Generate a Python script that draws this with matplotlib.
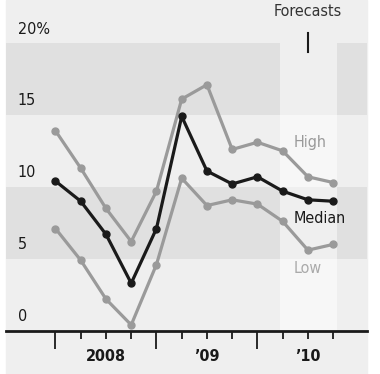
import matplotlib

matplotlib.use("Agg")
import matplotlib.pyplot as plt
from matplotlib.patches import Rectangle

plt.rcParams.update({"font.family": "DejaVu Sans", "font.stretch": "condensed"})

# quarterly forecasts, Q1 2008 .. Q4 2010
quarters = list(range(12))
high = [13.9, 11.3, 8.5, 6.2, 9.7, 16.1, 17.1, 12.6, 13.1, 12.5, 10.7, 10.3]
median = [10.4, 9.0, 6.7, 3.3, 7.1, 14.9, 11.1, 10.2, 10.7, 9.7, 9.1, 9.0]
low = [7.1, 4.9, 2.2, 0.4, 4.6, 10.6, 8.7, 9.1, 8.8, 7.6, 5.6, 6.0]

ytick_vals = [0, 5, 10, 15, 20]
ytick_labels = ["0", "5", "10", "15", "20%"]
year_pos = [2, 6, 10]
year_labels = ["2008", "\u201909", "\u201910"]
forecast_span = (8.9, 11.15)

bg_light = "#efefef"
bg_dark = "#e0e0e0"
grey = "#9a9a9a"
ink = "#1a1a1a"

fig = plt.figure(figsize=(3.8, 3.74), dpi=100, facecolor="white")
fig.patches.append(Rectangle((6 / 380, 0), 361 / 380, 1, transform=fig.transFigure,
                             color=bg_light, zorder=-10))
ax = fig.add_axes([6 / 380, 43.3 / 374, 361 / 380, 287.7 / 374])
ax.set_facecolor("none")
ax.set_xlim(-1.96, 12.34)
ax.set_ylim(0, 20)

ax.axhspan(15, 20, color=bg_dark, lw=0, zorder=0)
ax.axhspan(5, 10, color=bg_dark, lw=0, zorder=0)
ax.axvspan(*forecast_span, color="white", alpha=0.5, lw=0, zorder=1)

ax.plot(quarters, high, color=grey, lw=2.3, marker="o", ms=5, zorder=3)
ax.plot(quarters, low, color=grey, lw=2.3, marker="o", ms=5, zorder=3)
ax.plot(quarters, median, color=ink, lw=2.3, marker="o", ms=5, zorder=4)

for s in ["top", "right", "left"]:
    ax.spines[s].set_visible(False)
ax.spines["bottom"].set_linewidth(2)
ax.spines["bottom"].set_color(ink)
ax.set_yticks([])

ax.set_xticks(quarters)
ax.set_xticklabels([])
ax.tick_params(axis="x", length=6, width=1.3, color=ink, direction="out")
for i in [0, 4, 8]:
    ax.xaxis.get_major_ticks()[i].tick1line.set_markersize(13)

for v, lab in zip(ytick_vals, ytick_labels):
    ax.text(-1.5, v + 0.45, lab, fontsize=11.5, color=ink, ha="left", va="bottom",
            clip_on=False)

for x, lab in zip(year_pos, year_labels):
    ax.text(x, -1.3, lab, fontsize=11.5, fontweight="bold", color=ink,
            ha="center", va="top", clip_on=False)

ax.text(9.42, 13.1, "High", fontsize=11.5, color=grey, ha="left", va="center", zorder=5)
ax.text(9.42, 7.8, "Median", fontsize=11.5, color=ink, ha="left", va="center", zorder=5)
ax.text(9.42, 4.35, "Low", fontsize=11.5, color="#aaaaaa", ha="left", va="center", zorder=5)

ax.text(10.0, 21.7, "Forecasts", fontsize=11.5, color="#333333", ha="center",
        va="bottom", clip_on=False)
ax.plot([10.0, 10.0], [19.35, 20.7], color=ink, lw=1.5, clip_on=False)

fig.savefig("out.png", dpi=100, facecolor="white")
